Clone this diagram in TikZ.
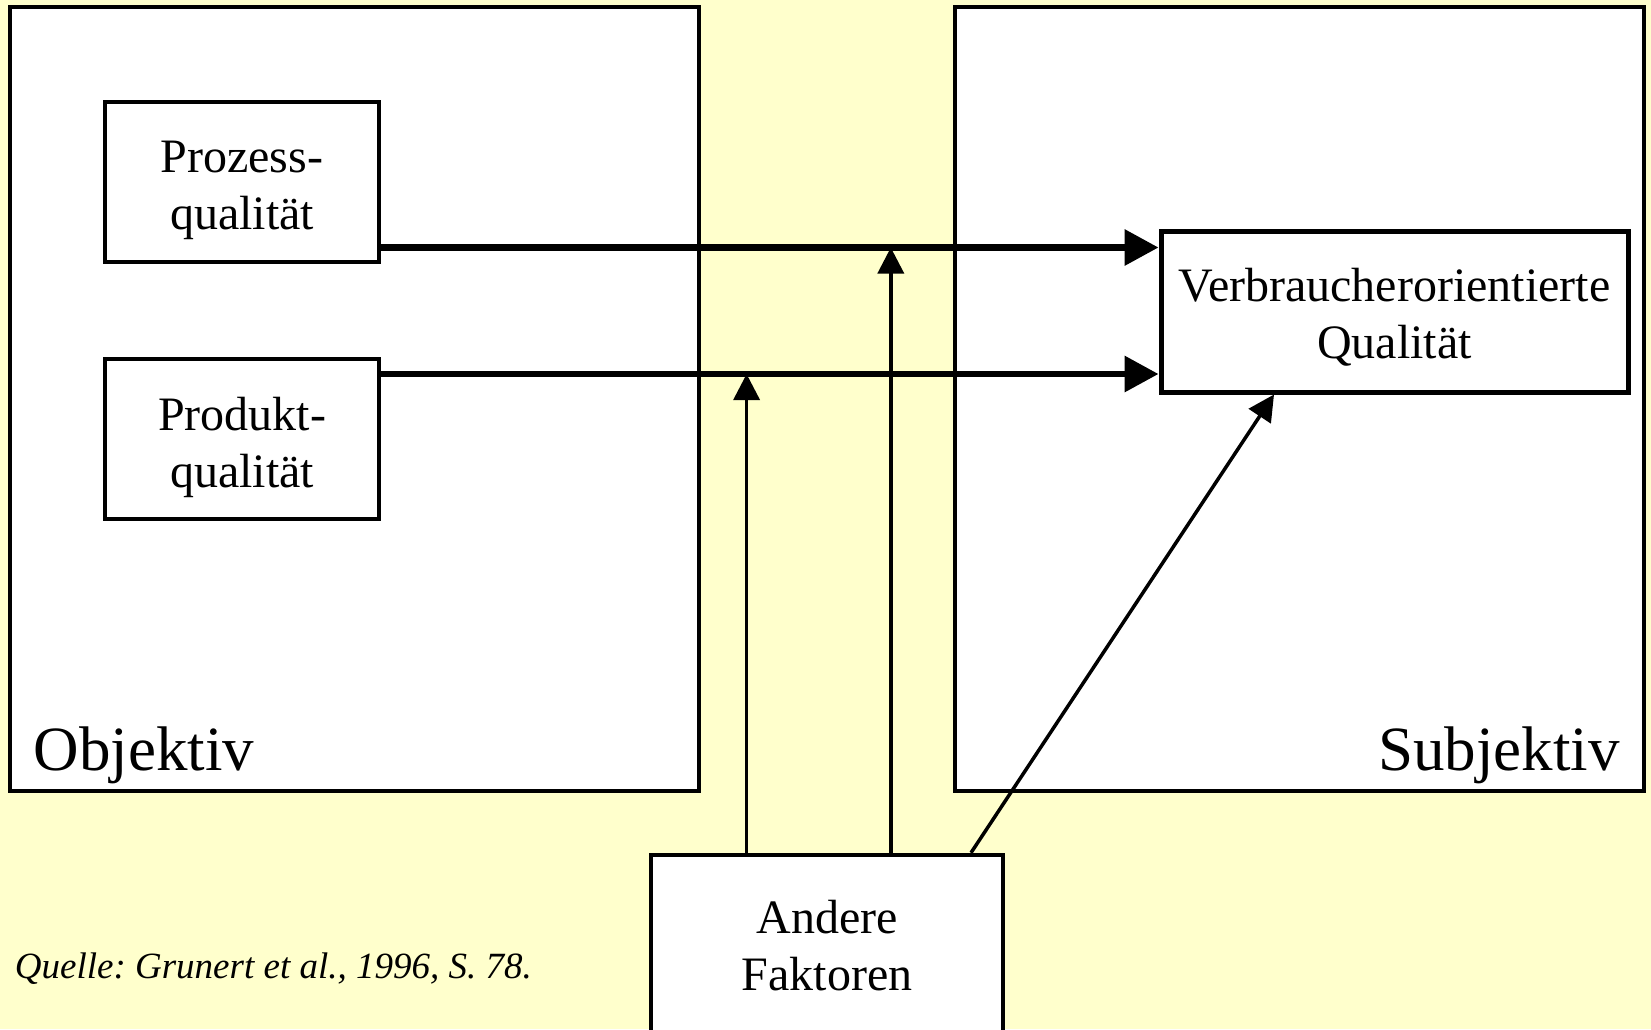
\documentclass[tikz,border=0pt]{standalone}
\usepackage{fontspec}
\setmainfont{Liberation Serif}
\usetikzlibrary{arrows.meta}
\definecolor{bg}{HTML}{FFFFCC}
\frenchspacing
\begin{document}
\begin{tikzpicture}[x=1pt,y=-1pt,
  bigbox/.style={draw=black, fill=white, line width=4pt, inner sep=0pt},
  smallbox/.style={draw=black, fill=white, line width=4.5pt, inner sep=0pt},
  boxtext/.style={inner sep=0pt, align=center, font=\fontsize{48}{57}\selectfont},
  label/.style={inner sep=0pt},
  thickarrow/.style={line width=6.5pt, -{Triangle[length=34pt,width=35pt]}},
  thinarrow/.style={line width=3.5pt, -{Triangle[length=26pt,width=26pt]}}]
\fill[bg] (0,0) rectangle (1651,1029);
\useasboundingbox (0,0) rectangle (1651,1029);
% big boxes
\node[bigbox, minimum width=689.5pt, minimum height=783.6pt] (obj) at (354.25,399.2) {};
\node[bigbox, minimum width=689pt, minimum height=783.6pt] (subj) at (1299.5,399.2) {};
\node[label, anchor=base west, font=\fontsize{63}{70}\selectfont] (objl) at (33.7,770) {Objektiv};
\node[label, anchor=base east, font=\fontsize{63}{70}\selectfont] (subjl) at (1620,770) {Subjektiv};
% small boxes
\node[smallbox, minimum width=274pt, minimum height=160pt] (proz) at (242,182) {};
\node[boxtext] (prozt) at (242,190) {Prozess-\\qualität};
\node[smallbox, minimum width=274pt, minimum height=160pt] (prod) at (242,439) {};
\node[boxtext] (prodt) at (242,447) {Produkt-\\qualität};
\node[smallbox, line width=5pt, minimum width=467pt, minimum height=161pt] (verb) at (1394.5,311.5) {};
\node[boxtext] (verbt) at (1394.5,317) {Verbraucherorientierte\\Qualität};
\node[smallbox, minimum width=352pt, minimum height=188pt] (andere) at (827,949) {};
\node[boxtext] (anderet) at (827,946) {Andere\\Faktoren};
\node[label, anchor=base west, font=\fontsize{37}{44}\selectfont\itshape] (quelle) at (14.7,978) {Quelle: Grunert et al., 1996, S. 78.};
% helper coordinates
\coordinate (h1) at (0,247.5);
\coordinate (h2) at (0,374);
\coordinate (v1) at (746.6,0);
\coordinate (v2) at (890.8,0);
\coordinate (d1) at (971,0);
\coordinate (d2) at (1274,0);
% connectors
\draw[thickarrow] (proz.east |- h1) -- (verb.west |- h1);
\draw[thickarrow] (prod.east |- h2) -- (verb.west |- h2);
\draw[thinarrow] (andere.north -| v1) -- (v1 |- h2);
\draw[thinarrow] (andere.north -| v2) -- (v2 |- h1);
\draw[thinarrow] (andere.north -| d1) -- (verb.south -| d2);
\end{tikzpicture}
\end{document}
